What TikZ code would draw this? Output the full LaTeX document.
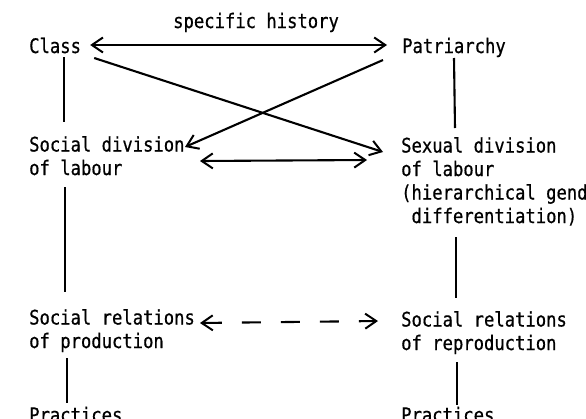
\documentclass[tikz,border=0pt]{standalone}
\usepackage{fontspec}
\newfontfamily\lgfont[FakeStretch=0.86,FakeBold=0.6]{DejaVu Sans Mono}
\usetikzlibrary{arrows.meta,calc}
\begin{document}
\begin{tikzpicture}[x=1pt,y=-1pt,
  lbl/.style={anchor=base west,inner sep=0pt,align=left,
    font=\lgfont\fontsize{20}{23.5}\selectfont},
  con/.style={line width=2.1pt,draw=black},
  tip/.style={-{Straight Barb[length=11pt,width=15pt,line width=2pt]}},
  tips/.style={{Straight Barb[length=11pt,width=15pt,line width=2pt]}-{Straight Barb[length=11pt,width=15pt,line width=2pt]}}]
\useasboundingbox (0,0) rectangle (586,418);
\fill[white] (0,0) rectangle (586,418);
\clip (0,0) rectangle (586,418);
\node[lbl] (hist) at (173,28) {specific history};
\node[lbl] (class) at (29,53) {Class};
\node[lbl] (patr) at (402,53) {Patriarchy};
\node[lbl] (sdiv) at (29,175) {Social division\\of labour};
\node[lbl] (xdiv) at (401,223) {Sexual division\\of labour\\(hierarchical gender\\\hphantom{x}differentiation)};
\node[lbl] (prod) at (29,348) {Social relations\\of production};
\node[lbl] (repr) at (401,350) {Social relations\\of reproduction};
\node[lbl] (pracl) at (29,422) {Practices};
\node[lbl] (pracr) at (401,422) {Practices};
% top double arrow
\draw[con,tips] ($(class.base east)+(9,-8)$) -- ($(patr.base west)+(-15,-8)$);
% diagonals
\draw[con,tip] ($(class.base east)+(13,5)$) -- ($(xdiv.base west)+(-18,-71)$);
\draw[con,tip] ($(patr.base west)+(-19,7)$) -- ($(sdiv.base west)+(156,-28)$);
% middle double arrow
\draw[con,tips] ($(sdiv.base west)+(171,-14)$) -- ($(xdiv.base west)+(-34,-63)$);
% dashed arrow
\draw[con,tips,dash pattern=on 19pt off 20pt] ($(prod.base west)+(171,-25)$) -- ($(repr.base west)+(-23,-29)$);
% verticals
\draw[con] ($(class.base west)+(35,4)$) -- ($(sdiv.base west)+(35,-53)$);
\draw[con] ($(patr.base west)+(52,5)$) -- ($(xdiv.base west)+(54,-95)$);
\draw[con] ($(sdiv.base west)+(36,12)$) -- ($(prod.base west)+(36,-56)$);
\draw[con] ($(xdiv.base west)+(55,14)$) -- ($(repr.base west)+(55,-52)$);
\draw[con] ($(prod.base west)+(38,10)$) -- ($(pracl.base west)+(38,-19)$);
\draw[con] ($(repr.base west)+(56,12)$) -- ($(pracr.base west)+(56,-17)$);
\end{tikzpicture}
\end{document}
